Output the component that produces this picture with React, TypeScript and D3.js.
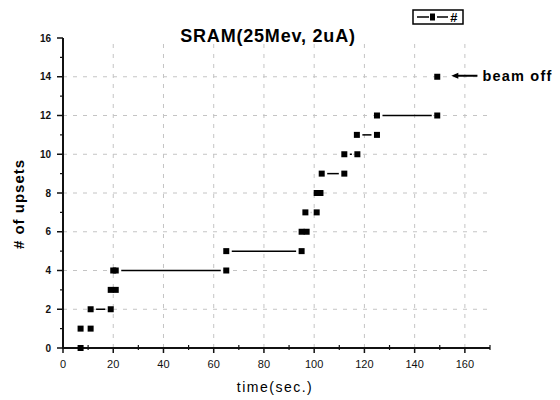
import React from "react";
import * as d3 from "d3";

const times = [7, 7, 11, 11, 19, 19, 21, 20, 21, 65, 65, 95, 95, 97, 96.5, 101, 101, 102.5, 103, 112, 112, 117.2, 117, 125, 125, 149, 149];
const counts = [0, 1, 1, 2, 2, 3, 3, 4, 4, 4, 5, 5, 6, 6, 7, 7, 8, 8, 9, 9, 10, 10, 11, 11, 12, 12, 14];
const xTicks = [0, 20, 40, 60, 80, 100, 120, 140, 160];
const xMinor = [10, 30, 50, 70, 90, 110, 130, 150, 170];
const yTicks = [0, 2, 4, 6, 8, 10, 12, 14, 16];
const yMinor = [1, 3, 5, 7, 9, 11, 13, 15];
const gridX = [20, 40, 60, 80, 100, 120, 140, 160];
const gridY = [2, 4, 6, 8, 10, 12, 14];
const title = "SRAM(25Mev, 2uA)";
const xLabel = "time(sec.)";
const yLabel = "# of upsets";
const legendLabel = "#";
const annotation = { text: "beam off", x0: 155, x1: 165, y: 14 };

const W = 560, H = 400;
const FONT = "'Liberation Sans', Arial, Helvetica, sans-serif";

export default function App() {
  const x = d3.scaleLinear().domain([0, 170]).range([63, 490]);
  const y = d3.scaleLinear().domain([0, 16]).range([348, 38]);
  const pts = times.map((t, i) => ({ t, c: counts[i] }));
  const gap = 5.5;
  const segs: { x1: number; x2: number; yy: number }[] = [];
  for (let i = 1; i < pts.length; i++) {
    const a = pts[i - 1], b = pts[i];
    if (a.c !== b.c) continue;
    const xa = x(Math.min(a.t, b.t)), xb = x(Math.max(a.t, b.t));
    if (xb - xa > 2 * gap) segs.push({ x1: xa + gap, x2: xb - gap, yy: y(a.c) });
  }
  const ms = 6;
  return (
    <svg width={W} height={H} style={{ position: "absolute", left: 0, top: 0, background: "#fff" }} fontFamily={FONT}>
      <rect x={0} y={0} width={W} height={H} fill="#fff" />
      {/* grid */}
      {gridY.map((v) => (
        <line key={"gy" + v} x1={x(0)} x2={x(169)} y1={y(v)} y2={y(v)} stroke="#c4c4c4" strokeWidth={1} strokeDasharray="4,6" />
      ))}
      {gridX.map((v) => (
        <line key={"gx" + v} x1={x(v)} x2={x(v)} y1={y(0)} y2={y(15.8)} stroke="#c4c4c4" strokeWidth={1} strokeDasharray="4,6" />
      ))}
      {/* axes */}
      <line x1={x(0)} x2={x(0)} y1={y(0) + 1} y2={y(16)} stroke="#111" strokeWidth={2} />
      <line x1={x(0) - 1} x2={x(170)} y1={y(0)} y2={y(0)} stroke="#111" strokeWidth={2} />
      {xTicks.map((v) => (
        <g key={"xt" + v}>
          <line x1={x(v)} x2={x(v)} y1={y(0)} y2={y(0) + 5} stroke="#111" strokeWidth={1.5} />
          <text x={x(v)} y={368} textAnchor="middle" fontSize={11} fill="#111">{v}</text>
        </g>
      ))}
      {xMinor.map((v) => (
        <line key={"xm" + v} x1={x(v)} x2={x(v)} y1={y(0) - 3} y2={y(0) + 2} stroke="#111" strokeWidth={1.2} />
      ))}
      {yTicks.map((v) => (
        <g key={"yt" + v}>
          <line x1={x(0) - 6} x2={x(0)} y1={y(v)} y2={y(v)} stroke="#111" strokeWidth={1.5} />
          <text x={51} y={y(v) + 3.5} textAnchor="end" fontSize={10} fontWeight="bold" fill="#111">{v}</text>
        </g>
      ))}
      {yMinor.map((v) => (
        <line key={"ym" + v} x1={x(0) - 3} x2={x(0)} y1={y(v)} y2={y(v)} stroke="#111" strokeWidth={1.2} />
      ))}
      {/* data lines */}
      {segs.map((s, i) => (
        <line key={"s" + i} x1={s.x1} x2={s.x2} y1={s.yy} y2={s.yy} stroke="#000" strokeWidth={1.5} />
      ))}
      {/* markers */}
      {pts.map((p, i) => (
        <rect key={"p" + i} x={x(p.t) - ms / 2} y={y(p.c) - ms / 2} width={ms} height={ms} fill="#000" />
      ))}
      {/* annotation */}
      <line x1={x(annotation.x0) + 4} x2={x(annotation.x1)} y1={y(annotation.y) - 1} y2={y(annotation.y) - 1} stroke="#000" strokeWidth={2} />
      <path d={`M${x(annotation.x0) - 1},${y(annotation.y) - 1} l7,-3 l0,6 z`} fill="#000" />
      <text x={x(annotation.x1) + 5} y={y(annotation.y) + 4} fontSize={14.5} fontWeight="bold" letterSpacing={1.2} fill="#000">{annotation.text}</text>
      {/* title */}
      <text x={268} y={42} textAnchor="middle" fontSize={18} fontWeight="bold" letterSpacing={0.8} fill="#000">{title}</text>
      {/* axis labels */}
      <text x={275} y={392} textAnchor="middle" fontSize={14} letterSpacing={1.5} fill="#000">{xLabel}</text>
      <text transform={`translate(24,204) rotate(-90)`} textAnchor="middle" fontSize={15} fontWeight="bold" letterSpacing={1} fill="#000">{yLabel}</text>
      {/* legend */}
      <rect x={413} y={10} width={50} height={14} fill="#fff" stroke="#000" strokeWidth={1.5} />
      <line x1={417} x2={429} y1={17} y2={17} stroke="#000" strokeWidth={1.5} />
      <rect x={430} y={13.5} width={5} height={7} fill="#000" />
      <line x1={437} x2={448} y1={17} y2={17} stroke="#000" strokeWidth={1.5} />
      <text x={450} y={22} fontSize={13} fontWeight="bold" fontStyle="italic" fill="#000">{legendLabel}</text>
    </svg>
  );
}
